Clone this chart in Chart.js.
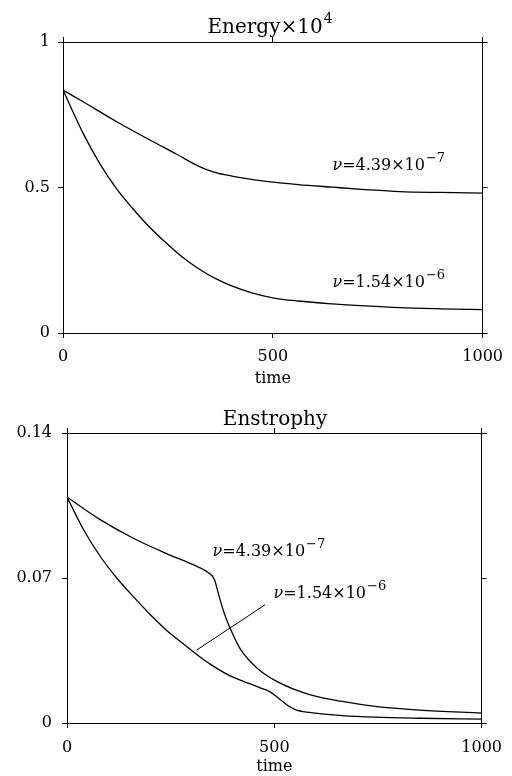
<!DOCTYPE html>
<html>
<head>
<meta charset="utf-8">
<script src="https://cdn.jsdelivr.net/npm/chart.js@4.4.1/dist/chart.umd.min.js"></script>
<style>
    html, body { margin: 0; padding: 0; background: #fff; }
    .box { position: relative; width: 512px; height: 388px; }
</style>
</head>
<body>
<div class="box"><canvas id="energy" width="512" height="388"></canvas></div>
<div class="box"><canvas id="enstrophy" width="512" height="388"></canvas></div>
<script>
// Energy x 10^4, nu = 4.39e-7
const energyTimeA = [0, 50, 127, 206, 270, 325, 360, 389, 430, 484, 560, 643, 720, 802, 900, 1000];
const energyA = [0.835, 0.793, 0.727, 0.664, 0.615, 0.572, 0.553, 0.543, 0.532, 0.521, 0.510, 0.501, 0.493, 0.486, 0.483, 0.481];
// Energy x 10^4, nu = 1.54e-6
const energyTimeB = [0, 48, 87, 127, 167, 206, 246, 285, 325, 365, 405, 450, 500, 560, 643, 720, 802, 900, 1000];
const energyB = [0.835, 0.686, 0.584, 0.497, 0.426, 0.364, 0.309, 0.260, 0.219, 0.186, 0.160, 0.138, 0.121, 0.110, 0.100, 0.093, 0.087, 0.083, 0.080];

// Enstrophy, nu = 4.39e-7
const enstTimeA = [0, 80, 160, 240, 300, 340, 355, 367, 379, 395, 419, 458, 506, 585, 664, 743, 850, 1000];
const enstA = [0.1091, 0.0982, 0.0892, 0.0818, 0.0768, 0.0727, 0.0695, 0.0611, 0.0531, 0.0450, 0.0354, 0.0266, 0.0201, 0.0137, 0.0104, 0.0080, 0.0062, 0.0048];
// Enstrophy, nu = 1.54e-6
const enstTimeB = [0, 40, 80, 120, 160, 200, 240, 280, 316, 347, 395, 427, 466, 490, 510, 530, 550, 585, 664, 743, 850, 1000];
const enstB = [0.1091, 0.0933, 0.0805, 0.0700, 0.0610, 0.0525, 0.0448, 0.0383, 0.0326, 0.0282, 0.0226, 0.0200, 0.0170, 0.0150, 0.0120, 0.0088, 0.0065, 0.0051, 0.0036, 0.0028, 0.0023, 0.0019];
// pointer line from the lower label to its curve
const pointerTime = [312, 478];
const pointerVal = [0.0351, 0.0571];

// axes
const timeTicks = [0, 500, 1000];
const timeTickLabels = ['0', '500', '1000'];
const energyTicks = [0, 0.5, 1];
const energyTickLabels = ['0', '0.5', '1'];
const enstTicks = [0, 0.07, 0.14];
const enstTickLabels = ['0', '0.07', '0.14'];

// text
const nuLabels = ['=4.39×10', '=1.54×10'];
const nuExponents = ['−7', '−6'];

const FONT = "'DejaVu Serif', serif";

function points(ts, vs) {
    return ts.map((t, i) => ({x: t, y: vs[i]}));
}

function curve(ts, vs, width) {
    return {
        data: points(ts, vs),
        borderColor: '#000',
        borderWidth: width,
        pointRadius: 0,
        cubicInterpolationMode: 'monotone',
        fill: false
    };
}

// base text plus a raised exponent, starting at x
function drawSup(ctx, base, sup, x, y, size, supSize, rise, italicFirst) {
    let cx = x;
    if (italicFirst) {
        ctx.font = 'italic ' + size + 'px ' + FONT;
        ctx.fillText(italicFirst, cx, y);
        cx += ctx.measureText(italicFirst).width;
    }
    ctx.font = size + 'px ' + FONT;
    ctx.fillText(base, cx, y);
    cx += ctx.measureText(base).width;
    if (sup) {
        ctx.font = supSize + 'px ' + FONT;
        ctx.fillText(sup, cx + 1, y - rise);
    }
}

function supWidth(ctx, base, sup, size, supSize) {
    ctx.font = size + 'px ' + FONT;
    let w = ctx.measureText(base).width;
    if (sup) {
        ctx.font = supSize + 'px ' + FONT;
        w += ctx.measureText(sup).width + 1;
    }
    return w;
}

const textPlugin = {
    id: 'texts',
    afterDraw(chart, args, opts) {
        const ctx = chart.ctx;
        const area = chart.chartArea;
        const xs = chart.scales.x, ys = chart.scales.y;
        ctx.save();
        ctx.fillStyle = '#000';
        ctx.textAlign = 'left';
        ctx.textBaseline = 'alphabetic';
        const w = supWidth(ctx, opts.title, opts.titleSup, 20, 14);
        drawSup(ctx, opts.title, opts.titleSup, opts.titleX - w / 2, area.top - opts.titleGap, 20, 14, 10);
        opts.notes.forEach(n => {
            drawSup(ctx, n.text, n.sup, xs.getPixelForValue(n.t), ys.getPixelForValue(n.v), 16, 13, 8, 'ν');
        });
        ctx.restore();
    }
};

function side(position, vals, labels, size, pad) {
    const horizontal = position === 'top' || position === 'bottom';
    return {
        type: 'linear',
        position: position,
        min: vals[0],
        max: vals[vals.length - 1],
        afterBuildTicks: s => { s.ticks = vals.map(v => ({value: v})); },
        afterFit: s => { if (horizontal) s.height = size; else s.width = size; },
        grid: {display: true, drawOnChartArea: false, drawTicks: true, tickLength: 5, color: '#000', lineWidth: 1},
        border: {display: true, color: '#000', width: 1},
        title: position === 'bottom'
            ? {display: true, text: 'time', color: '#000', font: {family: FONT, size: 16}, padding: 0}
            : {display: false},
        ticks: labels
            ? {display: true, color: '#000', padding: pad, maxRotation: 0, autoSkip: false,
               font: {family: FONT, size: 16}, callback: (v, i) => labels[i]}
            : {display: false}
    };
}

function makeChart(id, datasets, yVals, yLabels, box, texts) {
    return new Chart(document.getElementById(id), {
        type: 'line',
        data: {datasets: datasets},
        options: {
            responsive: false,
            animation: false,
            devicePixelRatio: 1,
            layout: {padding: {top: box.top, left: 0, right: 0, bottom: 0}},
            plugins: {legend: {display: false}, tooltip: {enabled: false}, texts: texts},
            scales: {
                x: side('bottom', timeTicks, timeTickLabels, box.bottom, box.xPad),
                x2: side('top', timeTicks, null, 0, 0),
                y: side('left', yVals, yLabels, box.left, box.yPad),
                y2: side('right', yVals, null, box.right, 0)
            }
        },
        plugins: [textPlugin]
    });
}

makeChart('energy',
    [curve(energyTimeA, energyA, 1.3), curve(energyTimeB, energyB, 1.3)],
    energyTicks, energyTickLabels,
    {top: 42, bottom: 55, left: 63, right: 29, xPad: 9, yPad: 8},
    {
        title: 'Energy×10', titleSup: '4', titleX: 270, titleGap: 9,
        notes: [
            {text: nuLabels[0], sup: nuExponents[0], t: 642, v: 0.561},
            {text: nuLabels[1], sup: nuExponents[1], t: 642, v: 0.159}
        ]
    });

makeChart('enstrophy',
    [curve(enstTimeA, enstA, 1.3), curve(enstTimeB, enstB, 1.3), curve(pointerTime, pointerVal, 1)],
    enstTicks, enstTickLabels,
    {top: 45, bottom: 53, left: 67, right: 24, xPad: 10, yPad: 10},
    {
        title: 'Enstrophy', titleSup: '', titleX: 275, titleGap: 8,
        notes: [
            {text: nuLabels[0], sup: nuExponents[0], t: 351, v: 0.0804},
            {text: nuLabels[1], sup: nuExponents[1], t: 498, v: 0.0605}
        ]
    });
</script>
</body>
</html>
